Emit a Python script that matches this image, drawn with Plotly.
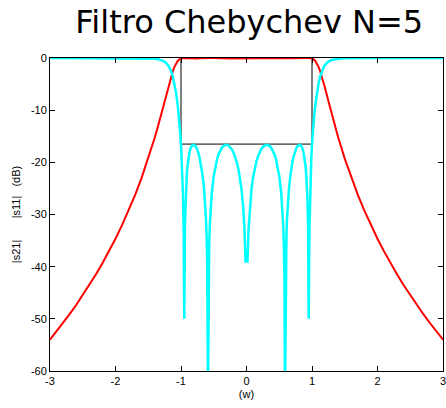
import plotly.graph_objects as go

# frequency samples (w)
w = [-3.0, -2.9, -2.8, -2.7, -2.6, -2.5, -2.4, -2.3, -2.2, -2.1, -2.0, -1.9, -1.8, -1.7, -1.6, -1.5,
     -1.4, -1.35, -1.3, -1.25, -1.2, -1.175, -1.15, -1.125, -1.1, -1.075, -1.05, -1.03, -1.02, -1.01,
     -1.0, -0.99, -0.98, -0.97, -0.96, -0.95, -0.94, -0.93, -0.92, -0.91, -0.9, -0.88, -0.87, -0.85,
     -0.83, -0.809, -0.78, -0.76, -0.75, -0.72, -0.7, -0.68, -0.67, -0.65, -0.64, -0.63, -0.62, -0.61,
     -0.6, -0.588, -0.58, -0.57, -0.56, -0.55, -0.54, -0.53, -0.5, -0.475, -0.45, -0.425, -0.4, -0.375,
     -0.35, -0.33, -0.309, -0.28, -0.25, -0.225, -0.2, -0.175, -0.15, -0.12, -0.1, -0.075, -0.05, -0.03,
     -0.015,
     0.015, 0.03, 0.05, 0.075, 0.1, 0.12, 0.15, 0.175, 0.2, 0.225, 0.25, 0.28, 0.309, 0.33, 0.35,
     0.375, 0.4, 0.425, 0.45, 0.475, 0.5, 0.53, 0.54, 0.55, 0.56, 0.57, 0.58, 0.588, 0.6, 0.61, 0.62,
     0.63, 0.64, 0.65, 0.67, 0.68, 0.7, 0.72, 0.75, 0.76, 0.78, 0.809, 0.83, 0.85, 0.87, 0.88, 0.9,
     0.91, 0.92, 0.93, 0.94, 0.95, 0.96, 0.97, 0.98, 0.99, 1.0, 1.01, 1.02, 1.03, 1.05, 1.075, 1.1,
     1.125, 1.15, 1.175, 1.2, 1.25, 1.3, 1.35, 1.4, 1.5, 1.6, 1.7, 1.8, 1.9, 2.0, 2.1, 2.2, 2.3, 2.4,
     2.5, 2.6, 2.7, 2.8, 2.9, 3.0]

# |s21| (dB) - red
s21 = [-54.0, -52.43, -50.8, -49.11, -47.34, -45.48, -43.55, -41.5, -39.35, -37.07, -34.64, -32.04,
       -29.25, -26.24, -22.93, -19.29, -15.23, -13.02, -10.69, -8.26, -5.81, -4.63, -3.53, -2.54, -1.7,
       -1.04, -0.57, -0.32, -0.22, -0.15,
       -0.1, -0.06, -0.03, -0.01, 0.0, 0.0, 0.0, -0.01, -0.02, -0.03, -0.04, -0.06, -0.07, -0.08,
       -0.09, -0.1, -0.09, -0.08, -0.08, -0.06, -0.04, -0.03, -0.02, -0.01, -0.01, -0.01, 0.0, 0.0,
       0.0, 0.0, 0.0, 0.0, 0.0, 0.0, -0.01, -0.01, -0.02, -0.04, -0.05, -0.06, -0.07, -0.08,
       -0.09, -0.09, -0.1, -0.09, -0.09, -0.08, -0.07, -0.06, -0.04, -0.03, -0.02, -0.01, -0.01, 0.0,
       0.0,
       0.0, 0.0, -0.01, -0.01, -0.02, -0.03, -0.04, -0.06, -0.07, -0.08, -0.09, -0.09, -0.1, -0.09, -0.09,
       -0.08, -0.07, -0.06, -0.05, -0.04, -0.02, -0.01, -0.01, 0.0, 0.0, 0.0, 0.0, 0.0, 0.0, 0.0, 0.0,
       -0.01, -0.01, -0.01, -0.02, -0.03, -0.04, -0.06, -0.08, -0.08, -0.09, -0.1, -0.09, -0.08, -0.07, -0.06, -0.04,
       -0.03, -0.02, -0.01, 0.0, 0.0, 0.0, -0.01, -0.03, -0.06, -0.1, -0.15, -0.22, -0.32, -0.57, -1.04, -1.7,
       -2.54, -3.53, -4.63, -5.81, -8.26, -10.69, -13.02, -15.23, -19.29, -22.93, -26.24, -29.25, -32.04,
       -34.64, -37.07, -39.35, -41.5, -43.55,
       -45.48, -47.34, -49.11, -50.8, -52.43, -54.0]

# |s11| (dB) - cyan
s11 = [0.0, 0.0, 0.0, 0.0, 0.0, 0.0, 0.0, 0.0, 0.0, 0.0, 0.0, 0.0, 0.0, -0.01, -0.02, -0.05,
       -0.13, -0.22, -0.39, -0.7, -1.32, -1.83, -2.55, -3.54, -4.89, -6.7, -9.09, -11.54, -13.0, -14.68,
       -16.64, -19.0, -21.9, -26.0, -32.9, -50.0, -31.9, -26.8, -23.9, -21.95, -20.6, -18.69, -18.07, -17.2,
       -16.78, -16.64, -16.88, -17.32, -17.6, -18.87, -20.05, -21.55, -22.5, -24.8, -26.3, -28.1, -30.5, -33.7,
       -38.9, -65.0, -42.9, -35.8, -32.0, -29.4, -27.4, -25.9, -22.6, -20.73, -19.4, -18.42, -17.7, -17.17,
       -16.84, -16.68, -16.64, -16.73, -17.05, -17.47, -18.07, -18.85, -19.9, -21.5, -22.9, -25.3, -28.7, -33.05,
       -39.0,
       -39.0, -33.05, -28.7, -25.3, -22.9, -21.5, -19.9, -18.85, -18.07, -17.47, -17.05, -16.73, -16.64, -16.68, -16.84,
       -17.17, -17.7, -18.42, -19.4, -20.73, -22.6, -25.9, -27.4, -29.4, -32.0, -35.8, -42.9, -65.0, -38.9, -33.7, -30.5,
       -28.1, -26.3, -24.8, -22.5, -21.55, -20.05, -18.87, -17.6, -17.32, -16.88, -16.64, -16.78, -17.2, -18.07, -18.69, -20.6,
       -21.95, -23.9, -26.8, -31.9, -50.0, -32.9, -26.0, -21.9, -19.0, -16.64, -14.68, -13.0, -11.54, -9.09, -6.7, -4.89,
       -3.54, -2.55, -1.83, -1.32, -0.7, -0.39, -0.22, -0.13, -0.05, -0.02, -0.01, 0.0, 0.0, 0.0, 0.0, 0.0, 0.0, 0.0,
       0.0, 0.0, 0.0, 0.0, 0.0, 0.0]

# passband mask (black)
mask_x = [-1, -1, 1, 1]
mask_y = [0, -16.5, -16.5, 0]

x_ticks = [-3, -2, -1, 0, 1, 2, 3]
y_ticks = [-60, -50, -40, -30, -20, -10, 0]

fig = go.Figure()
fig.add_trace(go.Scatter(x=mask_x, y=mask_y, mode="lines",
                         line=dict(color="black", width=1), showlegend=False))
fig.add_trace(go.Scatter(x=w, y=s21, mode="lines",
                         line=dict(color="#ff0000", width=2), showlegend=False))
fig.add_trace(go.Scatter(x=w, y=s11, mode="lines",
                         line=dict(color="#00ffff", width=2.5), showlegend=False))

nb = "\u00a0"
axis_common = dict(showline=True, linecolor="black", linewidth=1, mirror="ticks",
                   ticks="inside", ticklen=5, tickcolor="black", showgrid=False,
                   zeroline=False, ticklabeloverflow="allow", automargin=False,
                   tickfont=dict(family="Liberation Sans, Arial, sans-serif", size=11, color="black"))

fig.update_layout(
    width=446, height=408,
    margin=dict(l=50, r=3, t=58, b=37),
    paper_bgcolor="white", plot_bgcolor="white",
    title=dict(text="Filtro Chebychev N=5", x=0.507, xref="paper", xanchor="center",
               y=1 - 22 / 408, yref="container", yanchor="middle",
               font=dict(family="DejaVu Sans, Verdana, sans-serif", size=32, color="black")),
    xaxis=dict(range=[-3, 3], tickvals=x_ticks, ticktext=[str(v) for v in x_ticks],
               title=dict(text="(w)", standoff=4,
                          font=dict(family="Liberation Sans, Arial, sans-serif", size=11, color="black")),
               **axis_common),
    yaxis=dict(range=[-60, 0], tickvals=y_ticks, ticktext=[str(v) for v in y_ticks],
               title=dict(text="|s21|" + nb * 7 + "|s11|" + nb * 3 + "(dB)", standoff=8,
                          font=dict(family="Liberation Sans, Arial, sans-serif", size=11, color="black")),
               **axis_common),
)

fig.write_html("out.html", config={"displayModeBar": False},
               post_script="document.body.style.margin='0';")
